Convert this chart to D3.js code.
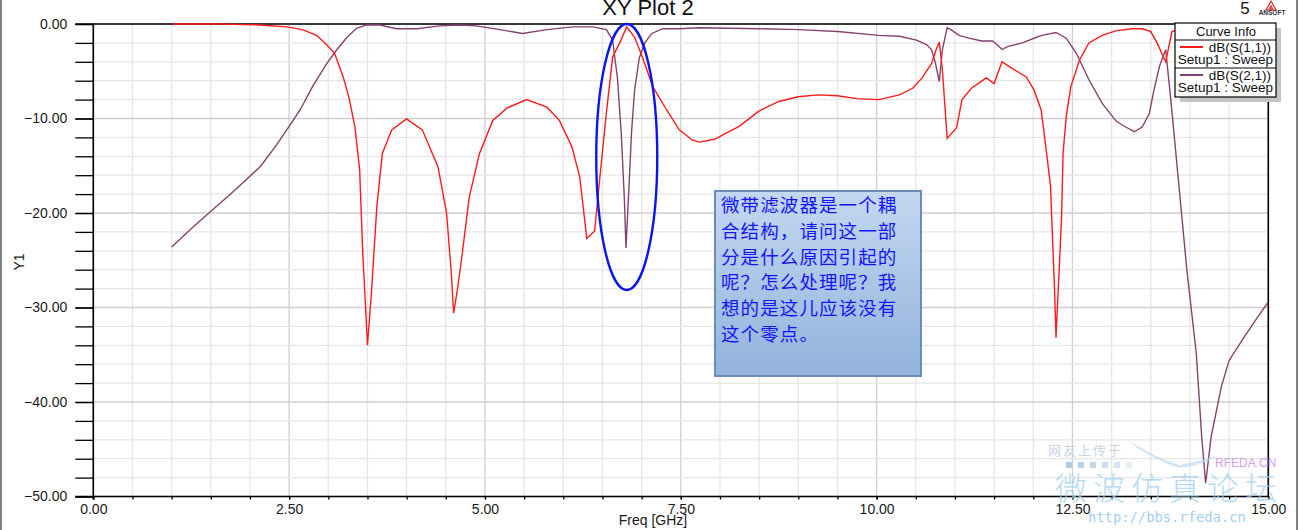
<!DOCTYPE html>
<html><head><meta charset="utf-8">
<script src="https://cdn.jsdelivr.net/npm/d3@7"></script>
<style>
html,body{margin:0;padding:0;background:#fff;}
svg{display:block;font-family:"Liberation Sans",Arial,sans-serif;}
</style></head>
<body>
<svg id="c" width="1300" height="530"></svg>
<script>
// ---- data ----
const s11Freq = [1.00,1.62,2.13,2.47,2.67,2.85,2.98,3.08,3.19,3.27,3.34,3.40,3.44,3.48,3.50,3.55,3.62,3.69,3.81,4.00,4.20,4.40,4.51,4.57,4.60,4.65,4.71,4.80,4.93,5.10,5.28,5.53,5.79,5.95,6.11,6.21,6.30,6.40,6.46,6.55,6.63,6.72,6.81,6.91,7.01,7.14,7.32,7.48,7.65,7.74,7.93,8.25,8.50,8.75,9.00,9.25,9.50,9.75,10.03,10.29,10.46,10.58,10.70,10.76,10.80,10.84,10.90,11.02,11.09,11.21,11.40,11.50,11.60,11.73,11.91,12.01,12.10,12.16,12.22,12.24,12.27,12.29,12.32,12.36,12.38,12.42,12.48,12.59,12.71,12.88,13.06,13.26,13.39,13.50,13.58,13.69,13.77,14.00,14.50,15.00];
const s11dB  = [0.0,0.0,-0.1,-0.3,-0.6,-1.2,-2.2,-3.1,-5.6,-8.0,-10.9,-15.4,-24.3,-30.6,-34.0,-28.5,-19.3,-13.7,-11.2,-10.05,-11.2,-15.1,-20.0,-26.3,-30.6,-28.0,-24.3,-18.3,-13.7,-10.2,-8.9,-8.0,-8.8,-10.2,-13.0,-16.2,-22.7,-21.9,-16.8,-9.4,-3.5,-2.0,-0.3,-1.4,-3.5,-6.6,-9.1,-11.2,-12.3,-12.5,-12.2,-10.8,-9.2,-8.2,-7.7,-7.5,-7.6,-7.9,-8.0,-7.5,-6.8,-5.7,-4.2,-2.7,-1.9,-4.9,-12.1,-11.0,-8.0,-6.8,-5.7,-6.3,-4.0,-4.7,-5.6,-7.0,-9.1,-13.0,-17.2,-21.5,-27.8,-33.2,-27.8,-20.7,-13.7,-9.8,-6.6,-3.8,-2.0,-1.2,-0.7,-0.5,-0.5,-0.8,-2.0,-4.0,-0.8,-0.3,-1.0,-1.5];
const s21Freq = [1.00,1.27,1.49,1.71,1.91,2.13,2.34,2.51,2.64,2.80,2.98,3.11,3.24,3.36,3.49,3.66,3.87,4.13,4.42,4.68,4.89,5.19,5.48,5.79,6.12,6.38,6.55,6.63,6.65,6.69,6.74,6.78,6.80,6.84,6.87,6.91,6.97,7.04,7.13,7.27,7.48,7.74,8.50,9.00,9.50,10.03,10.29,10.51,10.64,10.70,10.75,10.80,10.84,10.90,10.95,11.05,11.18,11.34,11.48,11.54,11.60,11.67,11.86,12.04,12.11,12.29,12.42,12.55,12.71,12.88,13.06,13.18,13.29,13.39,13.48,13.54,13.61,13.69,13.76,13.86,13.96,14.08,14.15,14.20,14.27,14.40,14.50,14.67,14.84,15.00];
const s21dB  = [-23.6,-21.5,-19.9,-18.3,-16.8,-15.1,-12.8,-10.7,-9.1,-6.6,-4.2,-2.7,-1.4,-0.45,-0.1,-0.1,-0.5,-0.5,-0.2,-0.1,-0.2,-0.6,-1.0,-0.6,-0.3,-0.3,-0.6,-1.7,-3.1,-5.6,-11.6,-18.6,-23.7,-17.0,-11.6,-7.0,-3.6,-2.0,-1.0,-0.5,-0.5,-0.4,-0.5,-0.6,-0.8,-1.2,-1.3,-1.7,-2.2,-2.7,-4.1,-6.1,-2.7,-0.4,-0.6,-1.2,-1.5,-1.8,-1.8,-2.2,-2.7,-2.4,-2.0,-1.4,-1.2,-0.9,-1.5,-3.1,-5.9,-8.4,-10.3,-10.9,-11.4,-10.9,-9.5,-7.0,-4.5,-2.7,-8.4,-17.2,-26.0,-34.8,-43.7,-48.6,-43.7,-38.4,-35.6,-33.4,-31.3,-29.4];
const xMajorTicks = [0, 2.5, 5, 7.5, 10, 12.5, 15];
const yMajorTicks = [0, -10, -20, -30, -40, -50];
const seriesNames = ["dB(S(1,1))", "dB(S(2,1))"];
const seriesSetup = ["Setup1 : Sweep", "Setup1 : Sweep"];
const noteLines = ["微带滤波器是一个耦", "合结构，请问这一部", "分是什么原因引起的", "呢？怎么处理呢？我", "想的是这儿应该没有", "这个零点。"];

// ---- layout ----
const svg = d3.select("#c");
const L = 93.3, R = 1268.3, T = 24, B = 496.5;
const x = d3.scaleLinear().domain([0, 15]).range([L, R]);
const y = d3.scaleLinear().domain([-50, 0]).range([B, T]);
const colS11 = "#ff1a1a", colS21 = "#85426f";

// outer frame
svg.append("line").attr("x1",1).attr("x2",1).attr("y1",0).attr("y2",530).attr("stroke","#808080").attr("stroke-width",2);
svg.append("line").attr("x1",1297).attr("x2",1297).attr("y1",0).attr("y2",530).attr("stroke","#808080").attr("stroke-width",2);

// grid
const xMinor = d3.range(0, 15.001, 0.5);
const yMinor = d3.range(-50, 0.001, 2);
const g = svg.append("g");
g.selectAll(".xm").data(xMinor).join("line")
  .attr("x1", d=>x(d)).attr("x2", d=>x(d)).attr("y1", T).attr("y2", B)
  .attr("stroke", d => xMajorTicks.includes(+d.toFixed(2)) ? "#cfcfcf" : "#e6e6e6").attr("stroke-width", 1.3);
g.selectAll(".ym").data(yMinor).join("line")
  .attr("x1", L).attr("x2", R).attr("y1", d=>y(d)).attr("y2", d=>y(d))
  .attr("stroke", d => yMajorTicks.includes(Math.round(d)) ? "#cfcfcf" : "#e6e6e6").attr("stroke-width", 1.3);

// axes
const yAxisMinor = d3.axisLeft(y).tickValues(yMinor).tickSize(18).tickFormat("");
const yAxisMajor = d3.axisLeft(y).tickValues(yMajorTicks).tickSize(18).tickPadding(8).tickFormat(d3.format(".2f"));
const ya1 = svg.append("g").attr("transform",`translate(${L},0)`).call(yAxisMinor);
const ya2 = svg.append("g").attr("transform",`translate(${L},0)`).call(yAxisMajor);
const xAxisMinor = d3.axisBottom(x).tickValues(xMinor).tickSize(3).tickFormat("");
const xAxisMajor = d3.axisBottom(x).tickValues(xMajorTicks).tickSize(3).tickPadding(5).tickFormat(d3.format(".2f"));
const xa1 = svg.append("g").attr("transform",`translate(0,${B})`).call(xAxisMinor);
const xa2 = svg.append("g").attr("transform",`translate(0,${B})`).call(xAxisMajor);
[ya1,ya2,xa1,xa2].forEach(a=>{
  a.selectAll("path.domain").remove();
  a.selectAll("line").attr("stroke","#000").attr("stroke-width",1.3);
  a.selectAll("text").attr("font-size",14).attr("fill","#1a1a1a").attr("font-family","'Liberation Sans',Arial,sans-serif");
});
// frame lines
svg.append("line").attr("x1",L).attr("x2",L).attr("y1",T).attr("y2",B+3).attr("stroke","#000").attr("stroke-width",1.6);
svg.append("line").attr("x1",L-18).attr("x2",R).attr("y1",B).attr("y2",B).attr("stroke","#000").attr("stroke-width",1.6);
svg.append("line").attr("x1",L-18).attr("x2",R).attr("y1",T).attr("y2",T).attr("stroke","#000").attr("stroke-width",1.6);
svg.append("line").attr("x1",R).attr("x2",R).attr("y1",T).attr("y2",B).attr("stroke","#000").attr("stroke-width",1.6);

// curves (drawn over the frame, clipped to the plot)
svg.append("clipPath").attr("id","pc").append("rect").attr("x",L).attr("y",T-1).attr("width",R-L).attr("height",B-T+1);
const line = d3.line().x(d=>x(d[0])).y(d=>y(d[1]));
const s11 = s11Freq.map((f,i)=>[f, s11dB[i]]);
const s21 = s21Freq.map((f,i)=>[f, s21dB[i]]);
const cg = svg.append("g").attr("clip-path","url(#pc)");
cg.append("path").datum(s21).attr("d", line).attr("fill","none").attr("stroke", colS21).attr("stroke-width",1.4);
cg.append("path").datum(s11).attr("d", line).attr("fill","none").attr("stroke", colS11).attr("stroke-width",1.4);

// titles
svg.append("text").attr("x",648).attr("y",15).attr("text-anchor","middle").attr("font-size",22).attr("fill","#111").text("XY Plot 2");
svg.append("text").attr("x",653).attr("y",525).attr("text-anchor","middle").attr("font-size",14).attr("fill","#1a1a1a").text("Freq [GHz]");
svg.append("text").attr("transform","translate(24,262) rotate(-90)").attr("text-anchor","middle").attr("font-size",14).attr("fill","#1a1a1a").text("Y1");
svg.append("text").attr("x",1245).attr("y",14).attr("text-anchor","middle").attr("font-size",17).attr("fill","#111").text("5");
svg.append("path").attr("d","M1271,1 L1266,10 L1276,10 Z").attr("fill","none").attr("stroke","#d03030").attr("stroke-width",1.2);
svg.append("path").attr("d","M1271,4 L1268,10 L1274,10 Z").attr("fill","#e05050");
svg.append("text").attr("x",1272).attr("y",15).attr("text-anchor","middle").attr("font-size",6.5).attr("font-weight","bold").attr("fill","#333").text("ANSOFT");

// ellipse highlight
svg.append("ellipse").attr("cx",x(6.81)).attr("cy",157).attr("rx",30.5).attr("ry",133)
  .attr("fill","none").attr("stroke","#0a14f0").attr("stroke-width",2.4);

// annotation box
const defs = svg.append("defs");
const grad = defs.append("linearGradient").attr("id","ng").attr("x1",0).attr("x2",0).attr("y1",0).attr("y2",1);
grad.append("stop").attr("offset","0%").attr("stop-color","#c3d8f1");
grad.append("stop").attr("offset","100%").attr("stop-color","#92b3dc");
svg.append("rect").attr("x",715).attr("y",191).attr("width",206).attr("height",185)
  .attr("fill","url(#ng)").attr("stroke","#6a8cb6").attr("stroke-width",2);
svg.append("g").selectAll("text").data(noteLines).join("text")
  .attr("x",721).attr("y",(d,i)=>212+i*25.8)
  .attr("font-family","'Noto Sans CJK SC',sans-serif").attr("font-size",18.5).attr("letter-spacing",1.1)
  .attr("fill","#1414ff").text(d=>d);

// legend
svg.append("rect").attr("x",1180).attr("y",28).attr("width",101).attr("height",74).attr("fill","#c4c4c4");
svg.append("rect").attr("x",1175).attr("y",23).attr("width",101).attr("height",74).attr("fill","#fff").attr("stroke","#000").attr("stroke-width",1.2);
svg.append("text").attr("x",1226).attr("y",36).attr("text-anchor","middle").attr("font-size",13).attr("fill","#111").text("Curve Info");
[40,68].forEach(yy=>svg.append("line").attr("x1",1175).attr("x2",1276).attr("y1",yy).attr("y2",yy).attr("stroke","#000").attr("stroke-width",1));
const legCols=[colS11,colS21];
seriesNames.forEach((n,i)=>{
  const y0 = 40 + i*28;
  svg.append("line").attr("x1",1180).attr("x2",1203).attr("y1",y0+7).attr("y2",y0+7).attr("stroke",legCols[i]).attr("stroke-width",2);
  svg.append("text").attr("x",1271).attr("y",y0+12).attr("text-anchor","end").attr("font-size",13.5).attr("fill","#111").text(n);
  svg.append("text").attr("x",1273).attr("y",y0+24).attr("text-anchor","end").attr("font-size",13.5).attr("fill","#111").text(seriesSetup[i]);
});

// watermark
const wm = svg.append("g");
wm.append("text").attr("x",1048).attr("y",455).attr("font-family","'Noto Sans CJK SC',sans-serif").attr("font-size",13).attr("letter-spacing",2).attr("fill","#c9d4e3").text("网友上传于");
d3.range(6).forEach(i=>wm.append("rect").attr("x",1066+i*12).attr("y",462).attr("width",6).attr("height",6).attr("fill","#a9cbe8").attr("opacity",1-i*0.13));
wm.append("path").attr("d","M1128,440 C1150,455 1170,462 1180,465 C1195,462 1210,458 1220,455 C1200,465 1185,470 1172,466 C1160,460 1140,452 1128,440 Z").attr("fill","#bcdcf2").attr("opacity",0.7);
wm.append("text").attr("x",1215).attr("y",467).attr("font-size",12).attr("fill","#d7a0ec").text("RFEDA.CN");
wm.append("text").attr("x",1055).attr("y",500).attr("font-family","'Noto Sans CJK SC',sans-serif").attr("font-size",32).attr("font-weight",300).attr("letter-spacing",6).attr("fill","#9fd0ee").attr("opacity",0.75).text("微波仿真论坛");
wm.append("text").attr("x",1088).attr("y",522).attr("font-family","'DejaVu Sans Mono',monospace").attr("font-size",13.8).attr("fill","#9fd0ee").text("http://bbs.rfeda.cn");
</script>
</body></html>
